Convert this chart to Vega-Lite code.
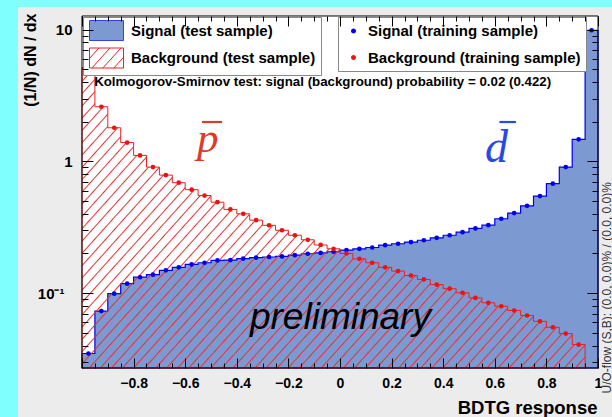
{
"$schema":"https://vega.github.io/schema/vega-lite/v6.json",
"width":594,"height":410,
"autosize":{"type":"none"},
"padding":{"left":18,"top":7,"right":0,"bottom":0},
"background":"#80ffff",
"view":{"fill":"#ececec","stroke":null},
"config":{"font":"Liberation Sans"},
"data":{"values":[
{"lo":-1,"hi":-0.95,"x":-0.975,"sig":0.0348,"bkg":5.15},
{"lo":-0.95,"hi":-0.9,"x":-0.925,"sig":0.073,"bkg":2.6},
{"lo":-0.9,"hi":-0.85,"x":-0.875,"sig":0.099,"bkg":1.8},
{"lo":-0.85,"hi":-0.8,"x":-0.825,"sig":0.118,"bkg":1.39},
{"lo":-0.8,"hi":-0.75,"x":-0.775,"sig":0.132,"bkg":1.11},
{"lo":-0.75,"hi":-0.7,"x":-0.725,"sig":0.138,"bkg":0.905},
{"lo":-0.7,"hi":-0.65,"x":-0.675,"sig":0.149,"bkg":0.787},
{"lo":-0.65,"hi":-0.6,"x":-0.625,"sig":0.157,"bkg":0.689},
{"lo":-0.6,"hi":-0.55,"x":-0.575,"sig":0.165,"bkg":0.61},
{"lo":-0.55,"hi":-0.5,"x":-0.525,"sig":0.17,"bkg":0.55},
{"lo":-0.5,"hi":-0.45,"x":-0.475,"sig":0.177,"bkg":0.49},
{"lo":-0.45,"hi":-0.4,"x":-0.425,"sig":0.178,"bkg":0.432},
{"lo":-0.4,"hi":-0.35,"x":-0.375,"sig":0.183,"bkg":0.4},
{"lo":-0.35,"hi":-0.3,"x":-0.325,"sig":0.186,"bkg":0.358},
{"lo":-0.3,"hi":-0.25,"x":-0.275,"sig":0.188,"bkg":0.327},
{"lo":-0.25,"hi":-0.2,"x":-0.225,"sig":0.19,"bkg":0.3},
{"lo":-0.2,"hi":-0.15,"x":-0.175,"sig":0.194,"bkg":0.275},
{"lo":-0.15,"hi":-0.1,"x":-0.125,"sig":0.199,"bkg":0.254},
{"lo":-0.1,"hi":-0.05,"x":-0.075,"sig":0.202,"bkg":0.232},
{"lo":-0.05,"hi":0,"x":-0.025,"sig":0.206,"bkg":0.217},
{"lo":0,"hi":0.05,"x":0.025,"sig":0.212,"bkg":0.2},
{"lo":0.05,"hi":0.1,"x":0.075,"sig":0.217,"bkg":0.182},
{"lo":0.1,"hi":0.15,"x":0.125,"sig":0.222,"bkg":0.17},
{"lo":0.15,"hi":0.2,"x":0.175,"sig":0.231,"bkg":0.157},
{"lo":0.2,"hi":0.25,"x":0.225,"sig":0.237,"bkg":0.147},
{"lo":0.25,"hi":0.3,"x":0.275,"sig":0.244,"bkg":0.136},
{"lo":0.3,"hi":0.35,"x":0.325,"sig":0.252,"bkg":0.127},
{"lo":0.35,"hi":0.4,"x":0.375,"sig":0.263,"bkg":0.116},
{"lo":0.4,"hi":0.45,"x":0.425,"sig":0.275,"bkg":0.108},
{"lo":0.45,"hi":0.5,"x":0.475,"sig":0.29,"bkg":0.1005},
{"lo":0.5,"hi":0.55,"x":0.525,"sig":0.31,"bkg":0.092},
{"lo":0.55,"hi":0.6,"x":0.575,"sig":0.328,"bkg":0.0844},
{"lo":0.6,"hi":0.65,"x":0.625,"sig":0.367,"bkg":0.0795},
{"lo":0.65,"hi":0.7,"x":0.675,"sig":0.405,"bkg":0.0738},
{"lo":0.7,"hi":0.75,"x":0.725,"sig":0.46,"bkg":0.0676},
{"lo":0.75,"hi":0.8,"x":0.775,"sig":0.545,"bkg":0.0611},
{"lo":0.8,"hi":0.85,"x":0.825,"sig":0.677,"bkg":0.055},
{"lo":0.85,"hi":0.9,"x":0.875,"sig":0.905,"bkg":0.0493},
{"lo":0.9,"hi":0.95,"x":0.925,"sig":1.47,"bkg":0.0407},
{"lo":0.95,"hi":1,"x":0.975,"sig":9.9}
]},
"resolve":{"axis":{"x":"independent","y":"independent"}},
"layer":[
{"data":{"values":[{}]},
 "mark":{"type":"rect","fill":"white","strokeWidth":0},
 "encoding":{
  "x":{"datum":-1,"type":"quantitative","scale":{"type":"linear","domain":[-1.24806,1.05426],"nice":false,"zero":false},
   "axis":{"orient":"bottom","offset":-49,"zindex":1,"domain":false,"grid":false,
    "values":[-1,-0.95,-0.9,-0.85,-0.8,-0.75,-0.7,-0.65,-0.6,-0.55,-0.5,-0.45,-0.4,-0.35,-0.3,-0.25,-0.2,-0.15,-0.1,-0.05,0,0.05,0.1,0.15,0.2,0.25,0.3,0.35,0.4,0.45,0.5,0.55,0.6,0.65,0.7,0.75,0.8,0.85,0.9,0.95,1],
    "tickSize":{"condition":{"test":"abs(datum.value*5 - round(datum.value*5)) < 0.001","value":-10},"value":-5},
    "tickColor":"black","tickWidth":1,
    "format":".1~f",
    "labelExpr":"abs(datum.value*5 - round(datum.value*5)) < 0.001 && datum.value > -0.99 ? datum.label : ''",
    "labelFont":"Liberation Sans","labelFontWeight":"bold","labelFontSize":14,"labelColor":"black",
    "labelPadding":18,"labelFlush":false,"labelOverlap":false,"labelBound":false,
    "title":"BDTG response","titleFont":"Liberation Sans","titleFontWeight":"bold","titleFontSize":18.5,"titleColor":"black",
    "titleAlign":"right","titleBaseline":"middle","titleX":579,"titleY":39,"titleAngle":0}},
  "x2":{"datum":1},
  "y":{"datum":0.027,"type":"quantitative","scale":{"type":"log","domain":[0.011467,14.86],"nice":false},
   "axis":{"orient":"left","offset":-64,"zindex":1,"domain":false,"grid":false,
    "values":[0.03,0.04,0.05,0.06,0.07,0.08,0.09,0.1,0.2,0.3,0.4,0.5,0.6,0.7,0.8,0.9,1,2,3,4,5,6,7,8,9,10],
    "tickSize":{"condition":{"test":"datum.value == 0.1 || datum.value == 1 || datum.value == 10","value":-11},"value":-6},
    "tickColor":"black","tickWidth":1,
    "labelExpr":"datum.value == 10 ? '10' : datum.value == 1 ? '1' : datum.value == 0.1 ? '10⁻¹' : ''",
    "labelFont":"Liberation Sans","labelFontWeight":"bold","labelFontSize":15,"labelColor":"black",
    "labelPadding":{"condition":{"test":"datum.value == 0.1","value":29},"value":21},
    "labelFlush":false,"labelOverlap":false,"labelBound":false,
    "title":"(1/N) dN / dx","titleFont":"Liberation Sans","titleFontWeight":"bold","titleFontSize":16,"titleColor":"black",
    "titleAngle":270,"titleAlign":"right","titleBaseline":"middle","titleX":-52,"titleY":6}},
  "y2":{"datum":12.7}
 }},
{"transform":[{"fold":["lo","hi"],"as":["k","edge"]}],
 "mark":{"type":"area","fill":"#7d99d1","fillOpacity":1,"stroke":"#0000ee","strokeWidth":1.2},
 "encoding":{
  "x":{"field":"edge","type":"quantitative","axis":null},
  "y":{"field":"sig","type":"quantitative","axis":null},
  "y2":{"datum":0.027},
  "order":[{"field":"edge","type":"quantitative"},{"field":"k","type":"nominal"}]
 }},
{"transform":[{"fold":["lo","hi"],"as":["k","edge"]}],
 "mark":{"type":"area","stroke":"#ee2020","strokeWidth":1,"fillOpacity":1,
  "fill":{"gradient":"linear","x1":0,"y1":0,"x2":1.193,"y2":0.6406,"stops":[
{"offset":0,"color":"#e8303000"},{"offset":0.0017,"color":"#e83030"},{"offset":0.0034,"color":"#e8303000"},
{"offset":0.0143,"color":"#e8303000"},{"offset":0.016,"color":"#e83030"},{"offset":0.0177,"color":"#e8303000"},
{"offset":0.0286,"color":"#e8303000"},{"offset":0.0303,"color":"#e83030"},{"offset":0.032,"color":"#e8303000"},
{"offset":0.0429,"color":"#e8303000"},{"offset":0.0446,"color":"#e83030"},{"offset":0.0463,"color":"#e8303000"},
{"offset":0.0571,"color":"#e8303000"},{"offset":0.0588,"color":"#e83030"},{"offset":0.0605,"color":"#e8303000"},
{"offset":0.0714,"color":"#e8303000"},{"offset":0.0731,"color":"#e83030"},{"offset":0.0748,"color":"#e8303000"},
{"offset":0.0857,"color":"#e8303000"},{"offset":0.0874,"color":"#e83030"},{"offset":0.0891,"color":"#e8303000"},
{"offset":0.1,"color":"#e8303000"},{"offset":0.1017,"color":"#e83030"},{"offset":0.1034,"color":"#e8303000"},
{"offset":0.1143,"color":"#e8303000"},{"offset":0.116,"color":"#e83030"},{"offset":0.1177,"color":"#e8303000"},
{"offset":0.1286,"color":"#e8303000"},{"offset":0.1303,"color":"#e83030"},{"offset":0.132,"color":"#e8303000"},
{"offset":0.1429,"color":"#e8303000"},{"offset":0.1446,"color":"#e83030"},{"offset":0.1463,"color":"#e8303000"},
{"offset":0.1571,"color":"#e8303000"},{"offset":0.1588,"color":"#e83030"},{"offset":0.1605,"color":"#e8303000"},
{"offset":0.1714,"color":"#e8303000"},{"offset":0.1731,"color":"#e83030"},{"offset":0.1748,"color":"#e8303000"},
{"offset":0.1857,"color":"#e8303000"},{"offset":0.1874,"color":"#e83030"},{"offset":0.1891,"color":"#e8303000"},
{"offset":0.2,"color":"#e8303000"},{"offset":0.2017,"color":"#e83030"},{"offset":0.2034,"color":"#e8303000"},
{"offset":0.2143,"color":"#e8303000"},{"offset":0.216,"color":"#e83030"},{"offset":0.2177,"color":"#e8303000"},
{"offset":0.2286,"color":"#e8303000"},{"offset":0.2303,"color":"#e83030"},{"offset":0.232,"color":"#e8303000"},
{"offset":0.2429,"color":"#e8303000"},{"offset":0.2446,"color":"#e83030"},{"offset":0.2463,"color":"#e8303000"},
{"offset":0.2571,"color":"#e8303000"},{"offset":0.2588,"color":"#e83030"},{"offset":0.2605,"color":"#e8303000"},
{"offset":0.2714,"color":"#e8303000"},{"offset":0.2731,"color":"#e83030"},{"offset":0.2748,"color":"#e8303000"},
{"offset":0.2857,"color":"#e8303000"},{"offset":0.2874,"color":"#e83030"},{"offset":0.2891,"color":"#e8303000"},
{"offset":0.3,"color":"#e8303000"},{"offset":0.3017,"color":"#e83030"},{"offset":0.3034,"color":"#e8303000"},
{"offset":0.3143,"color":"#e8303000"},{"offset":0.316,"color":"#e83030"},{"offset":0.3177,"color":"#e8303000"},
{"offset":0.3286,"color":"#e8303000"},{"offset":0.3303,"color":"#e83030"},{"offset":0.332,"color":"#e8303000"},
{"offset":0.3429,"color":"#e8303000"},{"offset":0.3446,"color":"#e83030"},{"offset":0.3463,"color":"#e8303000"},
{"offset":0.3571,"color":"#e8303000"},{"offset":0.3588,"color":"#e83030"},{"offset":0.3605,"color":"#e8303000"},
{"offset":0.3714,"color":"#e8303000"},{"offset":0.3731,"color":"#e83030"},{"offset":0.3748,"color":"#e8303000"},
{"offset":0.3857,"color":"#e8303000"},{"offset":0.3874,"color":"#e83030"},{"offset":0.3891,"color":"#e8303000"},
{"offset":0.4,"color":"#e8303000"},{"offset":0.4017,"color":"#e83030"},{"offset":0.4034,"color":"#e8303000"},
{"offset":0.4143,"color":"#e8303000"},{"offset":0.416,"color":"#e83030"},{"offset":0.4177,"color":"#e8303000"},
{"offset":0.4286,"color":"#e8303000"},{"offset":0.4303,"color":"#e83030"},{"offset":0.432,"color":"#e8303000"},
{"offset":0.4429,"color":"#e8303000"},{"offset":0.4446,"color":"#e83030"},{"offset":0.4463,"color":"#e8303000"},
{"offset":0.4571,"color":"#e8303000"},{"offset":0.4588,"color":"#e83030"},{"offset":0.4605,"color":"#e8303000"},
{"offset":0.4714,"color":"#e8303000"},{"offset":0.4731,"color":"#e83030"},{"offset":0.4748,"color":"#e8303000"},
{"offset":0.4857,"color":"#e8303000"},{"offset":0.4874,"color":"#e83030"},{"offset":0.4891,"color":"#e8303000"},
{"offset":0.5,"color":"#e8303000"},{"offset":0.5017,"color":"#e83030"},{"offset":0.5034,"color":"#e8303000"},
{"offset":0.5143,"color":"#e8303000"},{"offset":0.516,"color":"#e83030"},{"offset":0.5177,"color":"#e8303000"},
{"offset":0.5286,"color":"#e8303000"},{"offset":0.5303,"color":"#e83030"},{"offset":0.532,"color":"#e8303000"},
{"offset":0.5429,"color":"#e8303000"},{"offset":0.5446,"color":"#e83030"},{"offset":0.5463,"color":"#e8303000"},
{"offset":0.5571,"color":"#e8303000"},{"offset":0.5588,"color":"#e83030"},{"offset":0.5605,"color":"#e8303000"},
{"offset":0.5714,"color":"#e8303000"},{"offset":0.5731,"color":"#e83030"},{"offset":0.5748,"color":"#e8303000"},
{"offset":0.5857,"color":"#e8303000"},{"offset":0.5874,"color":"#e83030"},{"offset":0.5891,"color":"#e8303000"},
{"offset":0.6,"color":"#e8303000"},{"offset":0.6017,"color":"#e83030"},{"offset":0.6034,"color":"#e8303000"},
{"offset":0.6143,"color":"#e8303000"},{"offset":0.616,"color":"#e83030"},{"offset":0.6177,"color":"#e8303000"},
{"offset":0.6286,"color":"#e8303000"},{"offset":0.6303,"color":"#e83030"},{"offset":0.632,"color":"#e8303000"},
{"offset":0.6429,"color":"#e8303000"},{"offset":0.6446,"color":"#e83030"},{"offset":0.6463,"color":"#e8303000"},
{"offset":0.6571,"color":"#e8303000"},{"offset":0.6588,"color":"#e83030"},{"offset":0.6605,"color":"#e8303000"},
{"offset":0.6714,"color":"#e8303000"},{"offset":0.6731,"color":"#e83030"},{"offset":0.6748,"color":"#e8303000"},
{"offset":0.6857,"color":"#e8303000"},{"offset":0.6874,"color":"#e83030"},{"offset":0.6891,"color":"#e8303000"},
{"offset":0.7,"color":"#e8303000"},{"offset":0.7017,"color":"#e83030"},{"offset":0.7034,"color":"#e8303000"},
{"offset":0.7143,"color":"#e8303000"},{"offset":0.716,"color":"#e83030"},{"offset":0.7177,"color":"#e8303000"},
{"offset":0.7286,"color":"#e8303000"},{"offset":0.7303,"color":"#e83030"},{"offset":0.732,"color":"#e8303000"},
{"offset":0.7429,"color":"#e8303000"},{"offset":0.7446,"color":"#e83030"},{"offset":0.7463,"color":"#e8303000"},
{"offset":0.7571,"color":"#e8303000"},{"offset":0.7588,"color":"#e83030"},{"offset":0.7605,"color":"#e8303000"},
{"offset":0.7714,"color":"#e8303000"},{"offset":0.7731,"color":"#e83030"},{"offset":0.7748,"color":"#e8303000"},
{"offset":0.7857,"color":"#e8303000"},{"offset":0.7874,"color":"#e83030"},{"offset":0.7891,"color":"#e8303000"},
{"offset":0.8,"color":"#e8303000"},{"offset":0.8017,"color":"#e83030"},{"offset":0.8034,"color":"#e8303000"},
{"offset":0.8143,"color":"#e8303000"},{"offset":0.816,"color":"#e83030"},{"offset":0.8177,"color":"#e8303000"},
{"offset":0.8286,"color":"#e8303000"},{"offset":0.8303,"color":"#e83030"},{"offset":0.832,"color":"#e8303000"},
{"offset":0.8429,"color":"#e8303000"},{"offset":0.8446,"color":"#e83030"},{"offset":0.8463,"color":"#e8303000"},
{"offset":0.8571,"color":"#e8303000"},{"offset":0.8588,"color":"#e83030"},{"offset":0.8605,"color":"#e8303000"},
{"offset":0.8714,"color":"#e8303000"},{"offset":0.8731,"color":"#e83030"},{"offset":0.8748,"color":"#e8303000"},
{"offset":0.8857,"color":"#e8303000"},{"offset":0.8874,"color":"#e83030"},{"offset":0.8891,"color":"#e8303000"},
{"offset":0.9,"color":"#e8303000"},{"offset":0.9017,"color":"#e83030"},{"offset":0.9034,"color":"#e8303000"},
{"offset":0.9143,"color":"#e8303000"},{"offset":0.916,"color":"#e83030"},{"offset":0.9177,"color":"#e8303000"},
{"offset":0.9286,"color":"#e8303000"},{"offset":0.9303,"color":"#e83030"},{"offset":0.932,"color":"#e8303000"},
{"offset":0.9429,"color":"#e8303000"},{"offset":0.9446,"color":"#e83030"},{"offset":0.9463,"color":"#e8303000"},
{"offset":0.9571,"color":"#e8303000"},{"offset":0.9588,"color":"#e83030"},{"offset":0.9605,"color":"#e8303000"},
{"offset":0.9714,"color":"#e8303000"},{"offset":0.9731,"color":"#e83030"},{"offset":0.9748,"color":"#e8303000"},
{"offset":0.9857,"color":"#e8303000"},{"offset":0.9874,"color":"#e83030"},{"offset":0.9891,"color":"#e8303000"}
 ]}},
 "encoding":{
  "x":{"field":"edge","type":"quantitative","axis":null},
  "y":{"field":"bkg","type":"quantitative","axis":null},
  "y2":{"datum":0.027},
  "order":[{"field":"edge","type":"quantitative"},{"field":"k","type":"nominal"}]
 }},
{"transform":[{"fold":["sig","bkg"],"as":["series","value"]}],
 "mark":{"type":"point","filled":true,"size":22,"opacity":1},
 "encoding":{
  "x":{"field":"x","type":"quantitative","axis":null},
  "y":{"field":"value","type":"quantitative","axis":null},
  "color":{"field":"series","type":"nominal","scale":{"domain":["sig","bkg"],"range":["#0000ee","#ee1111"]},
   "legend":{"orient":"none","legendX":320,"legendY":10,"title":null,"direction":"vertical","padding":5,
    "fillColor":"white","strokeColor":"#888888",
    "symbolType":"M-0.31,0A0.31,0.31,0,1,1,0.31,0A0.31,0.31,0,1,1,-0.31,0Z","symbolSize":256,"symbolOffset":1.5,
    "labelOffset":5.5,"rowPadding":9.5,"symbolOpacity":1,
    "labelFont":"Liberation Sans","labelFontWeight":"bold","labelFontSize":15,"labelColor":"black","labelLimit":400,
    "labelExpr":"datum.value == 'sig' ? 'Signal (training sample)' : 'Background (training sample)'"}}
 }},
{"data":{"values":[{"t":"Signal (test sample)"},{"t":"Background (test sample)"}]},
 "mark":{"type":"point","opacity":0,"filled":true},
 "encoding":{
  "fill":{"field":"t","type":"nominal","scale":{"domain":["Signal (test sample)","Background (test sample)"],"range":["#7d99d1","white"]},
   "legend":{"orient":"none","legendX":65,"legendY":10,"title":null,"direction":"vertical","padding":5,"fillColor":"white","strokeColor":"#888888","symbolSize":256,"symbolOffset":10,"labelOffset":16,"rowPadding":2.5,"symbolOpacity":1,"symbolStrokeWidth":1,"labelFont":"Liberation Sans","labelFontWeight":"bold","labelFontSize":15,"labelColor":"black","labelLimit":400}},
  "stroke":{"field":"t","type":"nominal","scale":{"domain":["Signal (test sample)","Background (test sample)"],"range":["#3344dd","#ee2020"]},
   "legend":{"orient":"none","legendX":65,"legendY":10,"title":null,"direction":"vertical","padding":5,"fillColor":"white","strokeColor":"#888888","symbolSize":256,"symbolOffset":10,"labelOffset":16,"rowPadding":2.5,"symbolOpacity":1,"symbolStrokeWidth":1,"labelFont":"Liberation Sans","labelFontWeight":"bold","labelFontSize":15,"labelColor":"black","labelLimit":400}},
  "shape":{"field":"t","type":"nominal","scale":{"domain":["Signal (test sample)","Background (test sample)"],"range":["M-2.125,-1.25H2.125V1.25H-2.125Z","M-2.125,-1.25H2.125V1.25H-2.125Z M-2.125,0.056L-0.949,-1.25 M-1.825,1.25L0.426,-1.25 M-0.45,1.25L1.801,-1.25 M0.925,1.25L2.125,-0.083"]},
   "legend":{"orient":"none","legendX":65,"legendY":10,"title":null,"direction":"vertical","padding":5,"fillColor":"white","strokeColor":"#888888","symbolSize":256,"symbolOffset":10,"labelOffset":16,"rowPadding":2.5,"symbolOpacity":1,"symbolStrokeWidth":1,"labelFont":"Liberation Sans","labelFontWeight":"bold","labelFontSize":15,"labelColor":"black","labelLimit":400}}
 }},
{"data":{"values":[{}]},
 "mark":{"type":"rect","filled":false,"stroke":"black","strokeWidth":1},
 "encoding":{
  "x":{"datum":-1,"type":"quantitative",
   "axis":{"orient":"top","offset":-9,"zindex":1,"domain":false,"grid":false,"labels":false,"title":null,
    "values":[-1,-0.95,-0.9,-0.85,-0.8,-0.75,-0.7,-0.65,-0.6,-0.55,-0.5,-0.45,-0.4,-0.35,-0.3,-0.25,-0.2,-0.15,-0.1,-0.05,0,0.05,0.1,0.15,0.2,0.25,0.3,0.35,0.4,0.45,0.5,0.55,0.6,0.65,0.7,0.75,0.8,0.85,0.9,0.95,1],
    "tickSize":{"condition":{"test":"abs(datum.value*5 - round(datum.value*5)) < 0.001","value":-10},"value":-5},
    "tickColor":"black","tickWidth":1}},
  "x2":{"datum":1},
  "y":{"datum":0.027,"type":"quantitative",
   "axis":{"orient":"right","offset":-14,"zindex":1,"domain":false,"grid":false,"labels":false,
    "values":[0.03,0.04,0.05,0.06,0.07,0.08,0.09,0.1,0.2,0.3,0.4,0.5,0.6,0.7,0.8,0.9,1,2,3,4,5,6,7,8,9,10],
    "tickSize":{"condition":{"test":"datum.value == 0.1 || datum.value == 1 || datum.value == 10","value":-11},"value":-6},
    "tickColor":"black","tickWidth":1,
    "title":"U/O-flow (S,B): (0.0, 0.0)% / (0.0, 0.0)%","titleFont":"Liberation Sans","titleFontSize":12,"titleFontWeight":"normal","titleColor":"#333333",
    "titleAngle":270,"titleAlign":"left","titleBaseline":"middle","titleX":8,"titleY":386}},
  "y2":{"datum":12.7}
 }},
{"data":{"values":[{}]},
 "mark":{"type":"text","text":"Kolmogorov-Smirnov test: signal (background) probability =  0.02 (0.422)","font":"Liberation Sans","fontWeight":"bold","fontSize":13.3,"align":"left","baseline":"middle","color":"black"},
 "encoding":{"x":{"datum":-0.953,"type":"quantitative","axis":null},"y":{"datum":3.98,"type":"quantitative","axis":null}}},
{"data":{"values":[{}]},
 "mark":{"type":"text","text":"p","font":"Liberation Serif","fontStyle":"italic","fontSize":43,"align":"left","baseline":"alphabetic","color":"#dd3a28"},
 "encoding":{"x":{"datum":-0.554,"type":"quantitative","axis":null},"y":{"datum":1.174,"type":"quantitative","axis":null}}},
{"data":{"values":[{}]},
 "mark":{"type":"rule","color":"#dd3a28","strokeWidth":2.2},
 "encoding":{"x":{"datum":-0.535,"type":"quantitative","axis":null},"x2":{"datum":-0.457},"y":{"datum":1.99,"type":"quantitative","axis":null}}},
{"data":{"values":[{}]},
 "mark":{"type":"text","text":"d","font":"Liberation Serif","fontStyle":"italic","fontSize":46,"align":"left","baseline":"alphabetic","color":"#2848e8"},
 "encoding":{"x":{"datum":0.562,"type":"quantitative","axis":null},"y":{"datum":0.994,"type":"quantitative","axis":null}}},
{"data":{"values":[{}]},
 "mark":{"type":"rule","color":"#2848e8","strokeWidth":2.2},
 "encoding":{"x":{"datum":0.618,"type":"quantitative","axis":null},"x2":{"datum":0.682},"y":{"datum":1.99,"type":"quantitative","axis":null}}},
{"data":{"values":[{}]},
 "mark":{"type":"text","text":"preliminary","font":"Liberation Sans","fontStyle":"italic","fontSize":37,"align":"left","baseline":"alphabetic","color":"black"},
 "encoding":{"x":{"datum":-0.349,"type":"quantitative","axis":null},"y":{"datum":0.0534,"type":"quantitative","axis":null}}}
]
}
